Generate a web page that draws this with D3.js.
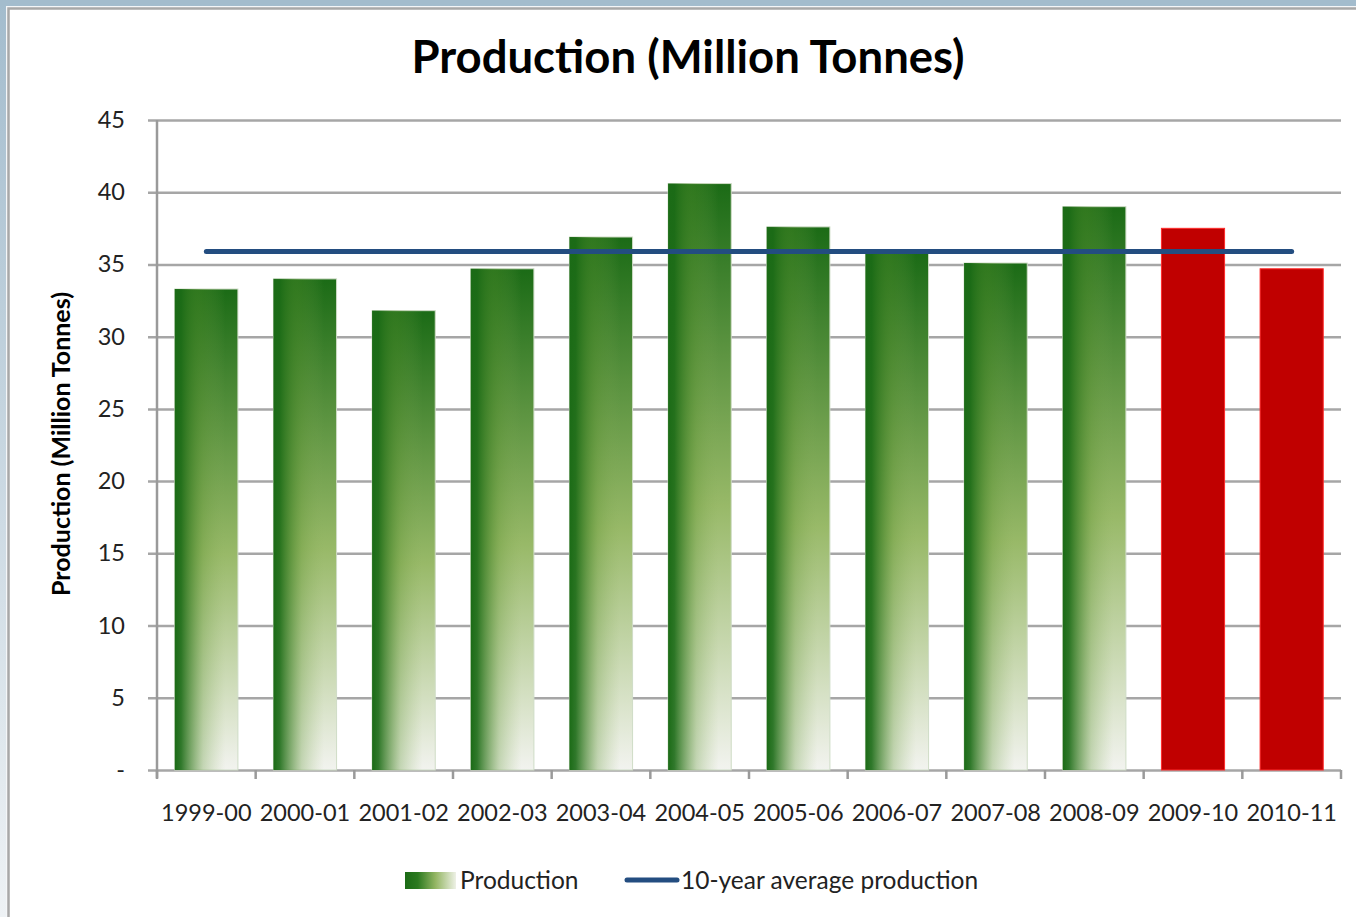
<!DOCTYPE html>
<html>
<head>
<meta charset="utf-8">
<script src="https://cdn.jsdelivr.net/npm/d3@7"></script>
<style>
  body { margin: 0; background: #fff; }
  svg { display: block; font-family: Lato, "Open Sans", sans-serif; }
</style>
</head>
<body>
<svg id="chart" width="1356" height="917"></svg>
<script>
// data
var years = ["1999-00","2000-01","2001-02","2002-03","2003-04","2004-05",
             "2005-06","2006-07","2007-08","2008-09","2009-10","2010-11"];
var production = [33.3, 34.0, 31.8, 34.7, 36.9, 40.6, 37.6, 35.8, 35.1, 39.0, 37.5, 34.7];
var average10 = [35.9, 35.9, 35.9, 35.9, 35.9, 35.9, 35.9, 35.9, 35.9, 35.9, 35.9, 35.9];
var estimates = ["2009-10", "2010-11"];   // drawn in red
var yTicks = [0, 5, 10, 15, 20, 25, 30, 35, 40, 45];

var W = 1356, H = 917;
var margin = {top: 120, right: 15, bottom: 147, left: 157},
    plotL = margin.left, plotR = W - margin.right,
    plotT = margin.top, plotB = H - margin.bottom;

var svg = d3.select("#chart");
var defs = svg.append("defs");

// window frame (blue strip top / left, grey border)
var frameGrad = defs.append("linearGradient").attr("id", "frameGrad")
    .attr("x1", 0).attr("y1", 0).attr("x2", 0).attr("y2", 1);
frameGrad.append("stop").attr("offset", 0).attr("stop-color", "#a3bccd");
frameGrad.append("stop").attr("offset", 1).attr("stop-color", "#eef2f5");
svg.append("rect").attr("width", W).attr("height", H).attr("fill", "url(#frameGrad)");
svg.append("rect").attr("x", 0).attr("y", 0).attr("width", W).attr("height", 5).attr("fill", "#a3bccd");
svg.append("rect").attr("x", 6).attr("y", 6).attr("width", W).attr("height", H)
    .attr("fill", "#f4f6f8");
svg.append("rect").attr("x", 8.5).attr("y", 8.5).attr("width", W).attr("height", H)
    .attr("fill", "#fff").style("stroke", "#a8a8a8").style("stroke-width", 2.5);

// bar gradients: vertical dark->light, plus a dark left edge fading right
var vGrad = defs.append("linearGradient").attr("id", "vGrad")
    .attr("x1", 0).attr("y1", 0).attr("x2", 0).attr("y2", 1);
vGrad.append("stop").attr("offset", 0).attr("stop-color", "#1b6b16");
vGrad.append("stop").attr("offset", 0.55).attr("stop-color", "#98b968");
vGrad.append("stop").attr("offset", 1).attr("stop-color", "#f2f3ef");
var hGrad = defs.append("linearGradient").attr("id", "hGrad")
    .attr("x1", 0).attr("y1", 0).attr("x2", 1).attr("y2", 0);
hGrad.append("stop").attr("offset", 0).attr("stop-color", "#1b6b16").attr("stop-opacity", 1);
hGrad.append("stop").attr("offset", 0.1).attr("stop-color", "#1b6b16").attr("stop-opacity", 0.9);
hGrad.append("stop").attr("offset", 0.45).attr("stop-color", "#5a922f").attr("stop-opacity", 0.3);
hGrad.append("stop").attr("offset", 0.8).attr("stop-color", "#8cb05c").attr("stop-opacity", 0);
var legGrad = defs.append("linearGradient").attr("id", "legGrad")
    .attr("x1", 0).attr("y1", 0).attr("x2", 1).attr("y2", 0);
legGrad.append("stop").attr("offset", 0).attr("stop-color", "#1b6b16");
legGrad.append("stop").attr("offset", 0.25).attr("stop-color", "#2c7a20");
legGrad.append("stop").attr("offset", 0.6).attr("stop-color", "#94b664");
legGrad.append("stop").attr("offset", 1).attr("stop-color", "#eef1e6");

var x = d3.scaleBand()
    .domain(years)
    .range([plotL, plotR])
    .paddingInner(0.36)
    .paddingOuter(0.18);

var y = d3.scaleLinear()
    .domain([0, 45])
    .range([plotB, plotT]);

// gridlines
var grid = svg.append("g").attr("class", "grid")
    .attr("transform", "translate(" + (plotL - 9) + ",0)")
    .call(d3.axisRight(y).tickValues(yTicks).tickSize(plotR - plotL + 9).tickFormat(""));
grid.select(".domain").remove();
grid.selectAll("line").style("stroke", "#a6a6a6").style("stroke-width", 2.5);

// y axis line + labels
svg.append("line")
    .attr("x1", plotL).attr("x2", plotL).attr("y1", plotT).attr("y2", plotB + 8)
    .style("stroke", "#9a9a9a").style("stroke-width", 2.5);

svg.append("g").selectAll("text")
    .data(yTicks)
    .enter().append("text")
    .attr("x", 125)
    .attr("y", function(d) { return y(d) + 8; })
    .attr("text-anchor", "end")
    .attr("fill", "#222")
    .style("font-size", "23.5px")
    .text(function(d) { return d == 0 ? "-" : d; });

// x ticks at category boundaries
var gap = (x.step() - x.bandwidth()) / 2;
var bounds = years.map(function(d) { return x(d) - gap; });
bounds.push(x(years[years.length - 1]) + x.bandwidth() + gap);
svg.append("g").selectAll("line")
    .data(bounds)
    .enter().append("line")
    .attr("x1", function(d) { return d; }).attr("x2", function(d) { return d; })
    .attr("y1", plotB).attr("y2", plotB + 9)
    .style("stroke", "#9a9a9a").style("stroke-width", 2.5);

svg.append("g").selectAll("text")
    .data(years)
    .enter().append("text")
    .attr("x", function(d) { return x(d) + x.bandwidth() / 2; })
    .attr("y", 821)
    .attr("text-anchor", "middle")
    .attr("fill", "#222")
    .style("font-size", "23.5px")
    .text(function(d) { return d; });

// bars
var bars = svg.append("g").selectAll("g")
    .data(years)
    .enter().append("g");

bars.append("rect")
    .attr("x", function(d) { return x(d); })
    .attr("y", function(d, i) { return y(production[i]); })
    .attr("width", x.bandwidth())
    .attr("height", function(d, i) { return plotB - y(production[i]); })
    .attr("fill", function(d) { return estimates.indexOf(d) >= 0 ? "#c00000" : "url(#vGrad)"; })
    .style("stroke", function(d) { return estimates.indexOf(d) >= 0 ? "#ff2a2a" : "#cfdcc6"; })
    .style("stroke-width", 1);

bars.filter(function(d) { return estimates.indexOf(d) < 0; })
  .append("rect")
    .attr("x", function(d) { return x(d); })
    .attr("y", function(d) { return y(production[years.indexOf(d)]); })
    .attr("width", x.bandwidth())
    .attr("height", function(d) { return plotB - y(production[years.indexOf(d)]); })
    .attr("fill", "url(#hGrad)");

// 10-year average line
var line = d3.line()
    .x(function(d, i) { return x(years[i]) + x.bandwidth() / 2; })
    .y(function(d) { return y(d); });

svg.append("path")
    .datum(average10)
    .attr("d", line)
    .attr("fill", "none")
    .style("stroke", "#234d80")
    .style("stroke-width", 5)
    .style("stroke-linecap", "round");

// title
svg.append("text")
    .attr("x", 688).attr("y", 73)
    .attr("text-anchor", "middle")
    .attr("fill", "#000")
    .style("font-size", "45.5px").style("font-weight", "bold")
    .text("Production (Million Tonnes)");

// y axis title
svg.append("text")
    .attr("transform", "translate(70,444) rotate(-90)")
    .attr("text-anchor", "middle")
    .attr("fill", "#000")
    .style("font-size", "25px").style("font-weight", "bold")
    .text("Production (Million Tonnes)");

// legend
var legend = svg.append("g");
legend.append("rect")
    .attr("x", 405).attr("y", 872).attr("width", 51).attr("height", 17)
    .attr("fill", "url(#legGrad)");
legend.append("text")
    .attr("x", 460).attr("y", 889)
    .attr("fill", "#222").style("font-size", "24.5px")
    .text("Production");
legend.append("line")
    .attr("x1", 627).attr("x2", 677).attr("y1", 880).attr("y2", 880)
    .style("stroke", "#234d80").style("stroke-width", 5).style("stroke-linecap", "round");
legend.append("text")
    .attr("x", 681).attr("y", 889)
    .attr("fill", "#222").style("font-size", "24.5px")
    .text("10-year average production");
</script>
</body>
</html>
